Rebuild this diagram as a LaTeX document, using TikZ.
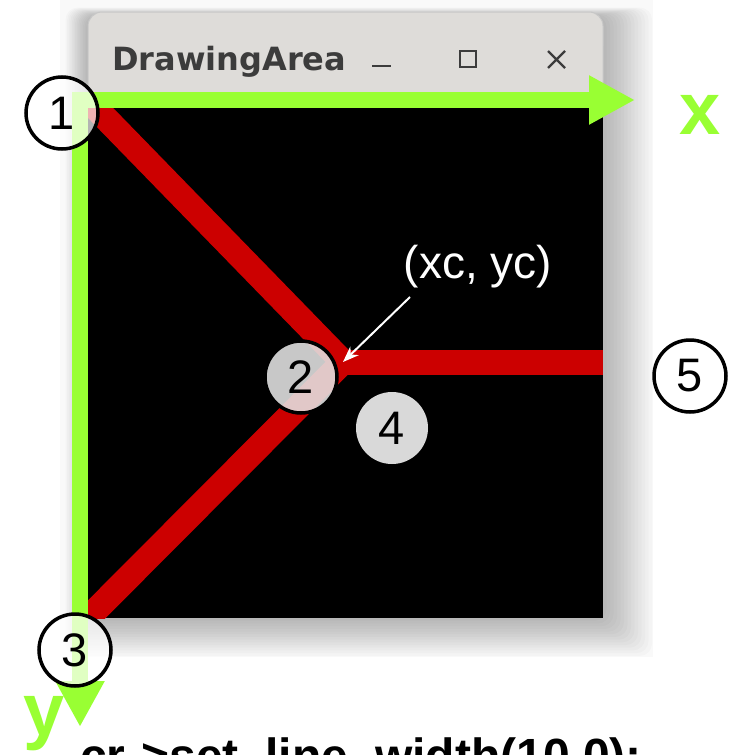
\documentclass[tikz,border=0pt]{standalone}
\usepackage{fontspec}
\setmainfont{Liberation Sans}
\newfontfamily\titlefont{DejaVu Sans}
\usetikzlibrary{arrows.meta}
\definecolor{axisgreen}{RGB}{153,255,51}
\definecolor{linered}{RGB}{204,0,0}
\definecolor{titlegray}{RGB}{222,220,217}
\definecolor{titletext}{RGB}{60,60,60}
\definecolor{mark}{RGB}{217,217,217}
\tikzset{
  num/.style={circle, minimum size=72pt, inner sep=0pt, font=\fontsize{47}{47}\selectfont},
  numw/.style={num, draw=black, line width=3.5pt, fill=white, fill opacity=0.7, text opacity=1},
  numg/.style={num, fill=mark, text opacity=1},
  axis/.style={axisgreen, line width=16pt, -{Triangle[length=46pt,width=46pt]}},
  redline/.style={linered, line width=25pt},
  btn/.style={titletext, line width=2.4pt}
}
\begin{document}
\begin{tikzpicture}[x=1pt,y=-1pt]
\useasboundingbox (0,0) rectangle (737,755);
\fill[white] (0,0) rectangle (737,755);
% screenshot background
\fill[gray!5] (60,0) rectangle (653,657);
\foreach \i in {1,...,14}{
  \fill[black, opacity=0.02, rounded corners=12pt] (88-\i*1.6,12-\i*0.6+4) rectangle (603+\i*3.5,618+\i*2.7);
}
% window
\fill[titlegray, rounded corners=14pt] (88,12) rectangle (603,60);
\fill[titlegray] (88,40) rectangle (603,108);
\draw[black!22, line width=1pt, rounded corners=14pt] (88,108) -- (88,12) -- (603,12) -- (603,108);
\node[anchor=west, font=\titlefont\bfseries\fontsize{32}{32}\selectfont, text=titletext, inner sep=0pt] (title) at (112,62) {DrawingArea};
\draw[btn] (372,66) -- (391,66);
\draw[btn] (460,51) rectangle (476,67);
\draw[btn] (548,51) -- (565,68) (565,51) -- (548,68);
% drawing area
\fill[black] (88,100) rectangle (603,618);
\coordinate (tl) at (88,100);
\coordinate (bl) at (88,618);
\coordinate (c) at (343,362);
\coordinate (r) at (603,362);
\begin{scope}
\clip (88,100) rectangle (603,618);
\draw[redline] (tl) -- (c) -- (bl);
\draw[redline] (c) -- (r);
\end{scope}
% markers
\node[numg, fill=mark!70!white, fill opacity=0.88, draw=black, line width=3.5pt] (n2) at (301,377) {2};
\node[numg] (n4) at (392,428) {4};
\node[text=white, font=\fontsize{46}{46}\selectfont, inner sep=0pt] (lbl) at (478,267) {(xc, yc)};
\draw[white, line width=2pt, -{Stealth[length=16pt,width=12pt]}] (410,297) -- (c);
% axes
\coordinate (o) at (72,100);
\coordinate (xend) at (635,100);
\coordinate (ostart) at (80,92);
\coordinate (yend) at (80,727);
\draw[axis] (o) -- (xend);
\draw[axis] (ostart) -- (yend);
\node[text=axisgreen, font=\bfseries\fontsize{74}{74}\selectfont, inner sep=0pt] (xl) at (700,115) {x};
\node[text=axisgreen, font=\bfseries\fontsize{74}{74}\selectfont, inner sep=0pt, anchor=base] (yl) at (44,735) {y};
\node[numw] (n1) at (62,113) {1};
\node[numw] (n3) at (75,650) {3};
\node[numw] (n5) at (690,376) {5};
\node[anchor=base west, font=\bfseries\fontsize{48}{48}\selectfont, inner sep=0pt] (code) at (80,772) {cr->set\_line\_width(10.0);};
\end{tikzpicture}
\end{document}
